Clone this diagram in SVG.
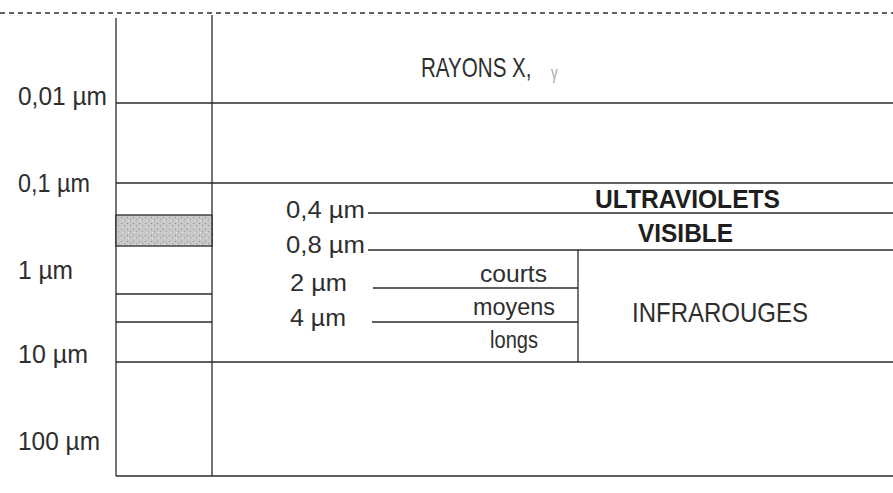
<svg xmlns="http://www.w3.org/2000/svg" width="893" height="493" viewBox="0 0 893 493">
<defs>
<style>
.ln{stroke:#2a2a2a;stroke-width:1.3;fill:none}
.dl{stroke:#333;stroke-width:1.3;fill:none;stroke-dasharray:5 4}
.t{font-family:"Liberation Sans",Arial,sans-serif;fill:#2e2e2e;font-size:23px}
.lab{font-size:25px}
.big{font-size:28px}
.b{font-weight:bold;fill:#1e1e1e}
.g{font-size:18px;fill:#aaa}
</style>
<pattern id="spk" width="6" height="6" patternUnits="userSpaceOnUse">
<rect width="6" height="6" fill="#c8c8c8"/>
<rect x="1" y="1" width="1" height="1" fill="#888"/>
<rect x="4" y="3" width="1" height="1" fill="#999"/>
<rect x="2" y="4" width="1" height="1" fill="#eee"/>
</pattern>
</defs>
<rect width="893" height="493" fill="#fff"/>
<g id="connectors">
<line class="dl" x1="0" y1="13" x2="893" y2="13"/>
<line class="ln" x1="116" y1="18" x2="116" y2="476"/>
<line class="ln" x1="212" y1="15" x2="212" y2="476"/>
<line class="ln" x1="116" y1="103" x2="893" y2="103"/>
<line class="ln" x1="116" y1="183" x2="893" y2="183"/>
<line class="ln" x1="116" y1="294" x2="212" y2="294"/>
<line class="ln" x1="116" y1="322" x2="212" y2="322"/>
<line class="ln" x1="116" y1="362" x2="893" y2="362"/>
<line class="ln" x1="116" y1="476" x2="893" y2="476"/>
<line class="ln" x1="368" y1="213" x2="893" y2="213"/>
<line class="ln" x1="368" y1="250" x2="893" y2="250"/>
<line class="ln" x1="373" y1="288" x2="578" y2="288"/>
<line class="ln" x1="372" y1="322" x2="578" y2="322"/>
<line class="ln" x1="578" y1="250" x2="578" y2="362"/>
</g>
<g id="visible-band">
<rect x="116" y="215" width="96" height="31" fill="url(#spk)" stroke="#2a2a2a" stroke-width="1.3"/>
</g>
<g id="scale">
<text class="t lab" x="18" y="105" textLength="89" lengthAdjust="spacingAndGlyphs">0,01 µm</text>
<text class="t lab" x="18" y="192" textLength="72" lengthAdjust="spacingAndGlyphs">0,1 µm</text>
<text class="t lab" x="18" y="279" textLength="55" lengthAdjust="spacingAndGlyphs">1 µm</text>
<text class="t lab" x="18" y="363" textLength="70" lengthAdjust="spacingAndGlyphs">10 µm</text>
<text class="t lab" x="18" y="450" textLength="82" lengthAdjust="spacingAndGlyphs">100 µm</text>
</g>
<g id="rayons-x">
<text class="t big" transform="translate(421 77) scale(0.735 1)" x="0" y="0">RAYONS X,<tspan class="g" x="177" y="2">γ</tspan></text>
</g>
<g id="ultraviolets">
<text class="t" x="286" y="218" textLength="79" lengthAdjust="spacingAndGlyphs">0,4 µm</text>
<text class="t lab b" x="595" y="208" textLength="185" lengthAdjust="spacingAndGlyphs">ULTRAVIOLETS</text>
</g>
<g id="visible">
<text class="t" x="286" y="253" textLength="79" lengthAdjust="spacingAndGlyphs">0,8 µm</text>
<text class="t lab b" x="638" y="242" textLength="95" lengthAdjust="spacingAndGlyphs">VISIBLE</text>
</g>
<g id="infrarouges">
<text class="t" x="290" y="291" textLength="57" lengthAdjust="spacingAndGlyphs">2 µm</text>
<text class="t" x="290" y="326" textLength="56" lengthAdjust="spacingAndGlyphs">4 µm</text>
<text class="t" x="480" y="282" textLength="67" lengthAdjust="spacingAndGlyphs">courts</text>
<text class="t" x="473" y="315" textLength="82" lengthAdjust="spacingAndGlyphs">moyens</text>
<text class="t" x="490" y="348" textLength="48" lengthAdjust="spacingAndGlyphs">longs</text>
<text class="t big" x="632" y="322" textLength="176" lengthAdjust="spacingAndGlyphs">INFRAROUGES</text>
</g>
</svg>
